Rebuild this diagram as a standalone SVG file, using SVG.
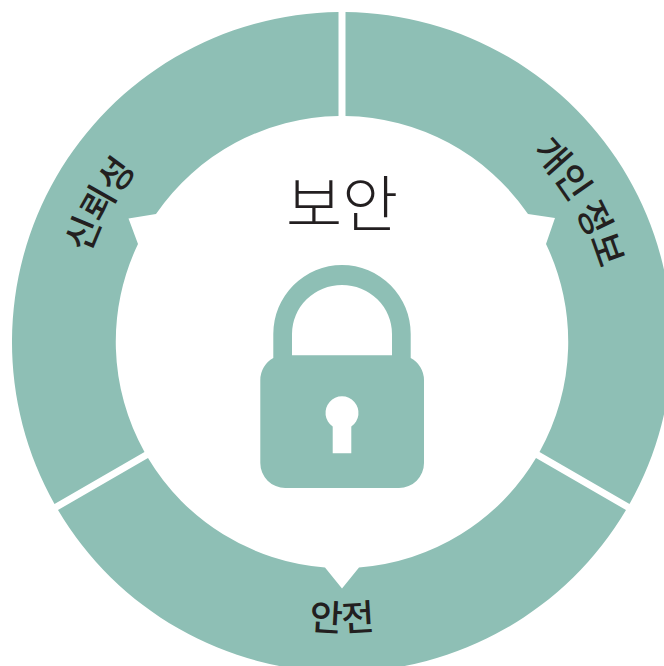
<svg xmlns="http://www.w3.org/2000/svg" width="664" height="666" viewBox="0 0 664 666">
<style>
.seg{fill:#8ebfb5}
.lab{font-family:"Noto Sans CJK KR","Noto Sans",sans-serif;font-size:36px;font-weight:500;fill:#231f20;text-anchor:middle}
.title{font-family:"Noto Sans CJK KR","Noto Sans",sans-serif;font-size:61px;font-weight:300;fill:#231f20;text-anchor:middle}
</style>
<defs>
<path id="arc-left" d="M90.2 433.7A268 268 0 0 1 295.500 78.100"/>
<path id="arc-right" d="M388.500 78.100A268 268 0 0 1 593.800 433.700"/>
<path id="arc-bottom" d="M156.200 563.400A289 289 0 0 0 527.800 563.400"/>
</defs>
<rect width="664" height="666" fill="#fff"/>
<g id="connectors"/>
<g id="segment-privacy">
<path class="seg" d="M345.500 12A330 330 0 0 1 629.500 504L539.500 452A226 226 0 0 0 546 244L555 218L528 214A226 226 0 0 0 345.500 116Z"/>
<text class="lab" letter-spacing="-0.8"><textPath href="#arc-right" startOffset="49.500%">개인 정보</textPath></text>
</g>
<g id="segment-safety">
<path class="seg" d="M626 510A330 330 0 0 1 58 510L148 458A226 226 0 0 0 325 567.400L342 588.500L359 567.400A226 226 0 0 0 536 458Z"/>
<text class="lab"><textPath href="#arc-bottom" startOffset="50%">안전</textPath></text>
</g>
<g id="segment-trust">
<path class="seg" d="M54.500 504A330 330 0 0 1 338.500 12V116A226 226 0 0 0 156 214L128.500 218.500L138 244A226 226 0 0 0 144.500 452Z"/>
<text class="lab" letter-spacing="-1"><textPath href="#arc-left" startOffset="49.500%">신뢰성</textPath></text>
</g>
<g id="center">
<text class="title" x="342" y="227">보안</text>
<path class="seg" fill-rule="evenodd" d="M273.300 358V334A68.700 69 0 0 1 410.700 334V358A25 25 0 0 1 424 380V463A25 25 0 0 1 399 488H285.300A25 25 0 0 1 260.300 463V380A25 25 0 0 1 273.300 358ZM292 355.300H392V334A50 49 0 0 0 292 334ZM332.700 426.500V453.300H351.300V426.500A16.500 16.500 0 1 0 332.700 426.500Z"/>
</g>
</svg>
